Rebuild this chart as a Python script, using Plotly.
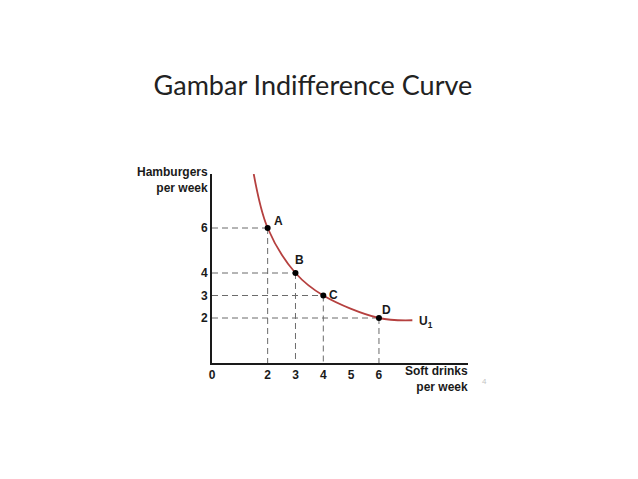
import plotly.graph_objects as go

# points on the indifference curve
labels = ['A', 'B', 'C', 'D']
soft_drinks = [2, 3, 4, 6]
hamburgers = [6, 4, 3, 2]

# curve U1
curve_x = [1.5, 2, 3, 4, 6, 7.2]
curve_y = [8.4, 6, 4, 3, 2, 1.9]

x_ticks = [0, 2, 3, 4, 5, 6]
y_ticks = [2, 3, 4, 6]

bold = dict(family='Liberation Sans, Arial', size=12, color='#1a1a1a', weight='bold')

# dashed guide lines from each point to the axes
gx, gy = [], []
for x, y in zip(soft_drinks, hamburgers):
    gx += [0, x, None, x, x, None]
    gy += [y, y, None, y, 0, None]

fig = go.Figure()
fig.add_trace(go.Scatter(x=gx, y=gy, mode='lines', hoverinfo='skip',
                         line=dict(color='#6b6b6b', width=1, dash='6px,4px')))
fig.add_trace(go.Scatter(x=curve_x, y=curve_y, mode='lines', line_shape='spline',
                         line=dict(color='#b5403f', width=1.8)))
fig.add_trace(go.Scatter(x=soft_drinks, y=hamburgers, mode='markers',
                         marker=dict(color='black', size=6)))

for lab, x, y, dx, dy in zip(labels, soft_drinks, hamburgers, [11, 4, 10, 8], [7, 13, 1, 8]):
    fig.add_annotation(x=x, y=y, text=lab, showarrow=False, xshift=dx, yshift=dy, font=bold)
fig.add_annotation(x=curve_x[-1], y=curve_y[-1], text='U<sub>1</sub>', showarrow=False,
                   xshift=14, yshift=-2, font=bold)

fig.add_annotation(x=-0.008, y=0.968, xref='paper', yref='paper', text='Hamburgers<br>per week',
                   showarrow=False, xanchor='right', yanchor='middle', align='right', font=bold)
fig.add_annotation(x=1.008, y=-0.085, xref='paper', yref='paper', text='Soft drinks<br>per week',
                   showarrow=False, xanchor='right', yanchor='middle', align='right', font=bold)
fig.add_annotation(x=1.0625, y=-0.1, xref='paper', yref='paper', text='4', showarrow=False,
                   xanchor='center', yanchor='middle',
                   font=dict(family='Liberation Sans, Arial', size=8, color='#c4c4c4'))

fig.update_layout(
    width=638, height=479,
    margin=dict(l=204, r=178, t=166, b=124),
    plot_bgcolor='white', paper_bgcolor='white',
    showlegend=False,
    title=dict(text='Gambar Indifference Curve', x=0.478, y=0.839, xanchor='center', yanchor='middle',
               font=dict(family='Lato', size=27, color='#222222')),
    xaxis=dict(range=[0, 9.2], tickvals=x_ticks, showgrid=False, zeroline=False,
               showline=True, linecolor='#1a1a1a', linewidth=2, tickfont=bold, ticks=''),
    yaxis=dict(range=[0, 8.4], tickvals=y_ticks, showgrid=False, zeroline=False,
               showline=True, linecolor='#1a1a1a', linewidth=2, tickfont=bold, ticks=''),
)

fig.write_html("out.html")
